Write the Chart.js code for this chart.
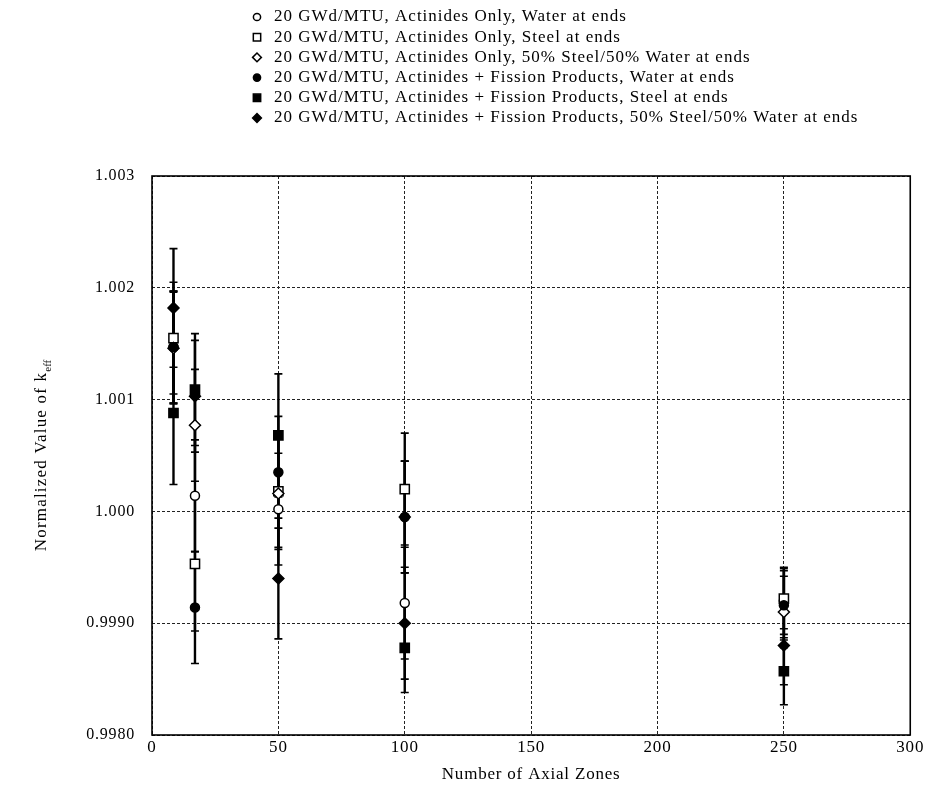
<!DOCTYPE html>
<html><head><meta charset="utf-8">
<script src="https://cdn.jsdelivr.net/npm/chart.js@4/dist/chart.umd.min.js"></script>
<style>html,body{margin:0;padding:0;background:#fff}#wrap{width:925px;height:793px;position:relative}</style>
</head><body><div id="wrap"><canvas id="c"></canvas></div>
<script>
// ---- data ----
const zones = [8.5, 17, 50, 100, 250];
const seriesLabels = [
  '20 GWd/MTU, Actinides Only, Water at ends',
  '20 GWd/MTU, Actinides Only, Steel at ends',
  '20 GWd/MTU, Actinides Only, 50% Steel/50% Water at ends',
  '20 GWd/MTU, Actinides + Fission Products, Water at ends',
  '20 GWd/MTU, Actinides + Fission Products, Steel at ends',
  '20 GWd/MTU, Actinides + Fission Products, 50% Steel/50% Water at ends'
];
const aoWater      = [1.00147, 1.00014, 1.00002, 0.99918, 0.99920];
const aoSteel      = [1.00155, 0.99953, 1.00018, 1.00020, 0.99922];
const aoMixed      = [1.00146, 1.00077, 1.00016, 0.99995, 0.99910];
const fpWater      = [1.00147, 0.99914, 1.00035, 0.99995, 0.99916];
const fpSteel      = [1.00088, 1.00109, 1.00068, 0.99878, 0.99857];
const fpMixed      = [1.00182, 1.00103, 0.99940, 0.99900, 0.99880];
const aoWaterErr   = [0.00050, 0.00050, 0.00050, 0.00050, 0.00030];
const aoSteelErr   = [0.00050, 0.00060, 0.00050, 0.00050, 0.00027];
const aoMixedErr   = [0.00050, 0.00050, 0.00050, 0.00050, 0.00032];
const fpWaterErr   = [0.00050, 0.00050, 0.00050, 0.00050, 0.00031];
const fpSteelErr   = [0.00064, 0.00050, 0.00055, 0.00040, 0.00030];
const fpMixedErr   = [0.00053, 0.00050, 0.00054, 0.00050, 0.00035];
const yTickValues  = [0.998, 0.999, 1.000, 1.001, 1.002, 1.003];
const yTickLabels  = ['0.9980', '0.9990', '1.000', '1.001', '1.002', '1.003'];
const xTickValues  = [0, 50, 100, 150, 200, 250, 300];
const xTitle = 'Number of Axial Zones';
const yTitleMain = 'Normalized Value of k';
const yTitleSub = 'eff';

// ---- styling ----
const values = [aoWater, aoSteel, aoMixed, fpWater, fpSteel, fpMixed];
const errs = [aoWaterErr, aoSteelErr, aoMixedErr, fpWaterErr, fpSteelErr, fpMixedErr];
const styles = ['circle', 'rect', 'rectRot', 'circle', 'rect', 'rectRot'];
const filled = [false, false, false, true, true, true];
const radii = [4.5, 6.5, 5.5, 4.5, 6.5, 5.5];
const drawOrder = [6, 5, 4, 3, 2, 1];
const FONT = '"Liberation Serif", "DejaVu Serif", serif';

const datasets = values.map((vals, i) => ({
  label: seriesLabels[i],
  data: zones.map((z, j) => ({x: z, y: vals[j]})),
  errors: errs[i],
  order: drawOrder[i],
  pointStyle: styles[i],
  pointRadius: radii[i],
  pointHoverRadius: radii[i],
  pointBorderWidth: 1.5,
  pointBorderColor: '#000',
  pointBackgroundColor: filled[i] ? '#000' : '#fff',
  showLine: false
}));

const textSpacing = {
  id: 'textSpacing',
  beforeDraw(chart) { chart.ctx.letterSpacing = '0.8px'; }
};

const errorBars = {
  id: 'errorBars',
  beforeDatasetsDraw(chart) {
    const {ctx, scales: {x, y}} = chart;
    ctx.save();
    ctx.strokeStyle = '#000';
    chart.data.datasets.forEach(ds => {
      ds.data.forEach((p, j) => {
        const e = ds.errors[j];
        const px = x.getPixelForValue(p.x);
        const y1 = y.getPixelForValue(p.y + e);
        const y2 = y.getPixelForValue(p.y - e);
        ctx.lineWidth = 2.4;
        ctx.beginPath(); ctx.moveTo(px, y1); ctx.lineTo(px, y2); ctx.stroke();
        ctx.lineWidth = 1.6;
        ctx.beginPath();
        ctx.moveTo(px - 4, y1); ctx.lineTo(px + 4, y1);
        ctx.moveTo(px - 4, y2); ctx.lineTo(px + 4, y2);
        ctx.stroke();
      });
    });
    ctx.restore();
  }
};

const frame = {
  id: 'frame',
  afterDraw(chart) {
    const {ctx, chartArea: a} = chart;
    ctx.save();
    ctx.strokeStyle = '#000';
    ctx.lineWidth = 1.6;
    ctx.strokeRect(a.left, a.top, a.right - a.left, a.bottom - a.top);
    // y title with subscript
    ctx.fillStyle = '#000';
    ctx.translate(42, (a.top + a.bottom) / 2);
    ctx.rotate(-Math.PI / 2);
    ctx.letterSpacing = '1.2px';
    ctx.font = '17px ' + FONT;
    const w1 = ctx.measureText(yTitleMain).width;
    ctx.letterSpacing = '0px';
    ctx.font = '11px ' + FONT;
    const w2 = ctx.measureText(yTitleSub).width;
    const start = -(w1 + w2) / 2;
    ctx.textBaseline = 'middle';
    ctx.textAlign = 'left';
    ctx.letterSpacing = '1.2px';
    ctx.font = '17px ' + FONT;
    ctx.fillText(yTitleMain, start, 0);
    ctx.letterSpacing = '0px';
    ctx.font = '11px ' + FONT;
    ctx.fillText(yTitleSub, start + w1, 6);
    ctx.restore();

    // legend
    ctx.save();
    chart.data.datasets.forEach((ds, i) => {
      const cy = 17 + i * 20.2;
      const cx = 257;
      ctx.fillStyle = filled[i] ? '#000' : '#fff';
      ctx.strokeStyle = '#000';
      ctx.lineWidth = 1.5;
      Chart.helpers.drawPoint(ctx, {pointStyle: styles[i], radius: radii[i] * 0.8, rotation: 0, borderWidth: 1.5}, cx, cy);
      ctx.fillStyle = '#000';
      ctx.letterSpacing = '1px';
      ctx.font = '17px ' + FONT;
      ctx.textBaseline = 'middle';
      ctx.textAlign = 'left';
      ctx.fillText(ds.label, 274, cy);
    });
    ctx.restore();
  }
};

new Chart(document.getElementById('c'), {
  type: 'scatter',
  data: {datasets},
  plugins: [textSpacing, errorBars, frame],
  options: {
    responsive: true,
    maintainAspectRatio: false,
    animation: false,
    layout: {padding: {top: 176, right: 13, left: 0, bottom: 8}},
    plugins: {legend: {display: false}, tooltip: {enabled: false}},
    scales: {
      x: {
        type: 'linear', min: 0, max: 300,
        afterBuildTicks: s => { s.ticks = xTickValues.map(v => ({value: v})); },
        afterFit: s => { s.height = 50; },
        grid: {color: '#222', lineWidth: 1, drawTicks: false, tickLength: 0},
        border: {display: false, dash: [3, 2]},
        ticks: {color: '#000', padding: 2, font: {family: FONT, size: 17}, maxRotation: 0},
        title: {display: true, text: xTitle, color: '#000', font: {family: FONT, size: 17}, padding: {top: 2, bottom: 0}}
      },
      y: {
        type: 'linear', min: 0.998, max: 1.003,
        afterBuildTicks: s => { s.ticks = yTickValues.map(v => ({value: v})); },
        afterFit: s => { s.width = 152; },
        grid: {color: '#222', lineWidth: 1, drawTicks: false, tickLength: 0},
        border: {display: false, dash: [3, 2]},
        ticks: {color: '#000', padding: 17, font: {family: FONT, size: 16},
          callback: v => { const k = yTickValues.findIndex(t => Math.abs(t - v) < 1e-9); return k >= 0 ? yTickLabels[k] : ''; }}
      }
    }
  }
});
</script></body></html>
